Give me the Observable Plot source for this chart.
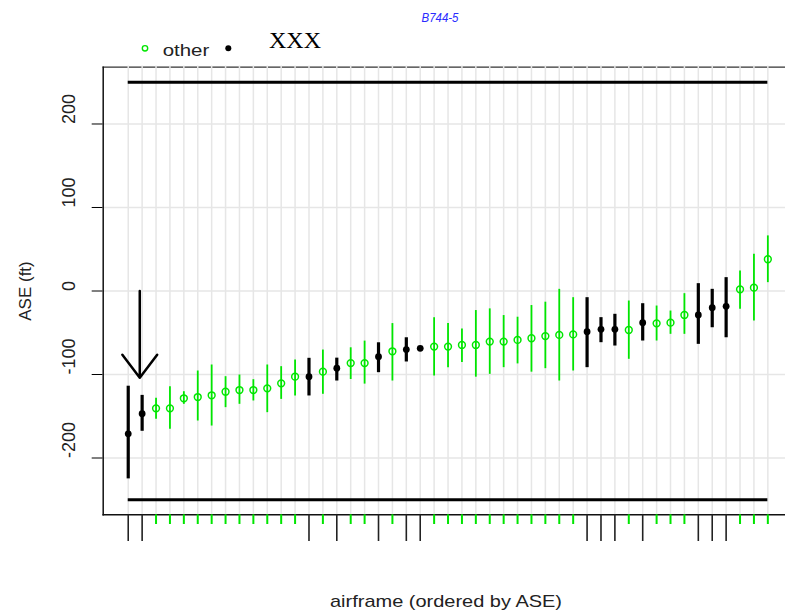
<!DOCTYPE html>
<html><head><meta charset="utf-8">
<script src="https://cdn.jsdelivr.net/npm/d3@7"></script>
<script src="https://cdn.jsdelivr.net/npm/@observablehq/plot@0.6"></script>
<style>
body{margin:0;background:#fff;}
#wrap{position:relative;width:785px;height:614px;overflow:hidden;}
#wrap svg{position:absolute;left:0;top:0;}
</style></head><body><div id="wrap"></div>
<script>
// ASE estimate per airframe (ordered by ASE), with lower/upper interval ends
const ase   = [-171,-147,-140.5,-140.5,-128.5,-127,-124.9,-120.6,-118.6,-118.6,-116.6,-110.6,-102.6,-102.6,-96.6,-92.4,-86.3,-86.3,-78.6,-72.2,-70.2,-68.6,-66.6,-66.6,-64.6,-64.6,-60.6,-60.6,-58.6,-56.6,-54,-52.6,-52,-48.7,-45.9,-45.9,-46.7,-37.9,-38.7,-37.9,-28.7,-28.7,-20,-18.4,2,4,38];
const lower = [-225,-168,-153.7,-165.6,-135.7,-155.7,-161.7,-139.7,-135.7,-131.7,-145.7,-129.8,-125.7,-125.7,-123.7,-107.8,-106,-111.5,-97.8,-107.8,-85,-68.6,-101.8,-91.8,-85.6,-103.2,-99.8,-91.8,-87.3,-97.2,-93,-107.8,-95.8,-91.8,-61.9,-65.9,-81.8,-59.9,-59.9,-51.9,-51.9,-63.9,-44,-56,-22,-36,10];
const upper = [-114,-125,-128.5,-114.6,-120.6,-95.8,-88.6,-102.6,-100.6,-106.2,-88.6,-90.6,-82.6,-80.6,-70.7,-80.4,-68,-60,-62,-39,-56,-68.6,-32,-39,-45.6,-23.4,-21.4,-29.4,-31.4,-17.4,-13.4,2,-8,-8,-31.9,-27.9,-12,-15.2,-18,-24,-3.2,8.8,2,16,24,44,66];
const group = ["XXX","XXX","other","other","other","other","other","other","other","other","other","other","other","XXX","other","XXX","other","other","XXX","other","XXX","XXX","other","other","other","other","other","other","other","other","other","other","other","XXX","XXX","XXX","other","XXX","other","other","other","XXX","XXX","XXX","other","other","other"];
const yTicks = [-200,-100,0,100,200];
const limits = [250,-250];
const arrowAt = 1.83, arrowFrom = 0, arrowTo = -104;
const title = "B744-5";
const xLabel = "airframe (ordered by ASE)";
const yLabel = "ASE (ft)";

const green = "#00e600";
const data = ase.map((v,i)=>({rank:i+1, ase:v, lo:lower[i], hi:upper[i], group:group[i]}));
const blk = data.filter(d=>d.group==="XXX");
const oth = data.filter(d=>d.group==="other");
const firstRank = data[0].rank, lastRank = data[data.length-1].rank;

const chart = Plot.plot({
  width:785, height:614,
  marginLeft:102.7, marginRight:0, marginTop:66.7, marginBottom:99.7,
  style:{fontFamily:"'Liberation Sans', Arial, sans-serif", background:"white"},
  x:{domain:[-0.8,48.27], axis:null},
  y:{domain:[-268,268], ticks:yTicks, tickSize:11, tickFormat:()=>"", label:null},
  marks:[
    Plot.frame({anchor:"top", stroke:"#333", strokeWidth:1.3}),
    Plot.ruleX(data,{x:"rank", stroke:"#e6e6e6", strokeWidth:1.5, insetTop:-1.2}),
    Plot.ruleY(yTicks,{y:d=>d, stroke:"#e6e6e6", strokeWidth:1.5}),
    Plot.frame({anchor:"left", stroke:"#111", strokeWidth:1.5}),
    Plot.frame({anchor:"bottom", stroke:"#111", strokeWidth:1.5}),
    Plot.ruleY(limits,{y:d=>d, x1:firstRank, x2:lastRank, stroke:"black", strokeWidth:3.2}),
    Plot.ruleX(oth,{x:"rank", y1:"lo", y2:"hi", stroke:green, strokeWidth:1.8}),
    Plot.ruleX(blk,{x:"rank", y1:"lo", y2:"hi", stroke:"black", strokeWidth:3.2}),
    Plot.dot(oth,{x:"rank", y:"ase", r:3.4, stroke:green, strokeWidth:1.5, fill:"none"}),
    Plot.dot(blk,{x:"rank", y:"ase", r:3.4, fill:"black", stroke:"none"}),
    Plot.ruleX(oth,{x:"rank", stroke:green, strokeWidth:2, insetTop:447.6, insetBottom:-9.7}),
    Plot.ruleX(blk,{x:"rank", stroke:"#222", strokeWidth:1.6, insetTop:447.6, insetBottom:-26.7}),
    Plot.arrow([{x1:arrowAt,y1:arrowFrom,x2:arrowAt,y2:arrowTo}],{x1:"x1",y1:"y1",x2:"x2",y2:"y2", headLength:25, headAngle:74, stroke:"black", strokeWidth:2.5, insetStart:0, insetEnd:0}),
    Plot.text(yTicks,{y:d=>d, text:d=>String(d), frameAnchor:"left", dx:-33.5, rotate:-90, fontSize:18, fill:"#222"})
  ]
});
const wrap = document.getElementById("wrap");
wrap.appendChild(chart);

// overlay: title, legend, axis titles
const ov = d3.select(wrap).append("svg").attr("width",785).attr("height",614)
  .style("font-family","'Liberation Sans', Arial, sans-serif");
ov.append("text").attr("x",440).attr("y",22).attr("text-anchor","middle")
  .attr("font-size",12).attr("font-style","italic").attr("fill","#2a2aff").attr("textLength",37).attr("lengthAdjust","spacingAndGlyphs").text(title);
ov.append("circle").attr("cx",145).attr("cy",48.3).attr("r",2.7).attr("fill","none").attr("stroke",green).attr("stroke-width",1.4);
ov.append("text").attr("x",162.7).attr("y",55.7).attr("font-size",17).attr("fill","#222")
  .attr("textLength",46.6).attr("lengthAdjust","spacingAndGlyphs").text("other");
ov.append("circle").attr("cx",228.3).attr("cy",48.3).attr("r",3).attr("fill","black");
ov.append("text").attr("x",269).attr("y",48.3).attr("font-size",24).attr("font-family","'Liberation Serif', 'Times New Roman', serif").attr("fill","black").text("XXX");
ov.append("text").attr("x",446).attr("y",607).attr("text-anchor","middle").attr("font-size",17).attr("fill","#222")
  .attr("textLength",232).attr("lengthAdjust","spacingAndGlyphs").text(xLabel);
ov.append("text").attr("transform","translate(25,291) rotate(-90)").attr("text-anchor","middle").attr("dominant-baseline","central")
  .attr("font-size",17).attr("fill","#222").text(yLabel);
</script></body></html>
